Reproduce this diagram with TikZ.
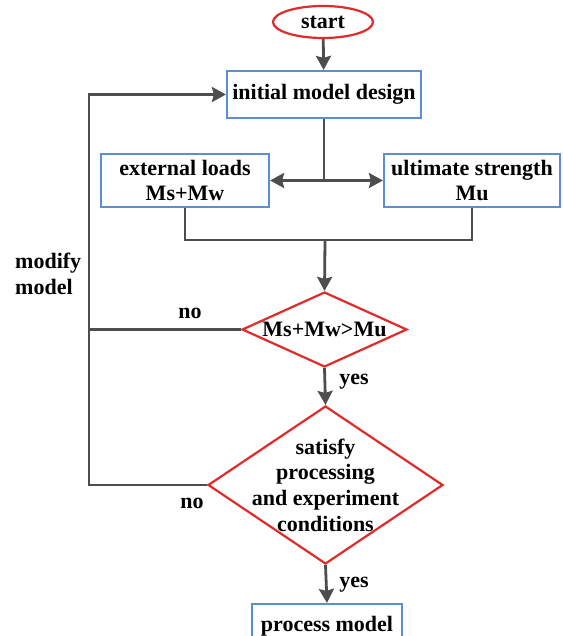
\documentclass[tikz,border=0pt]{standalone}
\usepackage{fontspec}
\setmainfont{Liberation Serif}[BoldFont={Liberation Serif Bold}]
\usepackage{tikz}
\usetikzlibrary{positioning,calc,arrows.meta,shapes.geometric}
\definecolor{boxc}{HTML}{5B8FD3}
\definecolor{decc}{HTML}{E02B2B}
\definecolor{linec}{HTML}{4D4D4D}
\tikzset{
  procbox/.style={draw=boxc, line width=2.2pt, fill=white, inner sep=0pt, align=center},
  decision/.style={diamond, draw=decc, line width=2.2pt, fill=white, inner sep=0pt},
  termnode/.style={ellipse, draw=decc, line width=2.2pt, inner sep=0pt},
  conn/.style={draw=linec, line width=2.8pt},
  flow/.style={conn, -{Stealth[length=14pt,width=15pt,inset=2pt]}},
  lbl/.style={inner sep=0pt}
}

\begin{document}
\begin{tikzpicture}[x=1pt, y=-1pt, font=\rmfamily\bfseries\fontsize{22}{25.7}\selectfont]
  \useasboundingbox (0,0) rectangle (562,636);
  % boxes and decisions
  \node[termnode, minimum width=100pt, minimum height=32pt] (start) at (323,22) {start};
  \node[procbox, minimum width=194pt, minimum height=47pt] (design) at (324,94.5) {initial model design};
  \node[procbox, minimum width=168pt, minimum height=53pt] (loads) at (185,180.5) {external loads\\Ms+Mw};
  \node[procbox, minimum width=176pt, minimum height=53pt] (strength) at (472,180.5) {ultimate strength\\Mu};
  \node[decision, minimum width=165pt, minimum height=75pt,
        label={[lbl]center:Ms+Mw>Mu}] (check) at (324.5,329.5) {};
  \node[decision, minimum width=235pt, minimum height=158pt,
        label={[lbl,align=center]center:satisfy\\processing\\and experiment\\conditions}] (cond) at (325.5,485) {};
  \node[procbox, minimum width=150pt, minimum height=44pt] (process) at (327,626) {process model};
  % helper points
  \coordinate (split) at (324,180.5);
  \coordinate (merge) at (325,240);
  \coordinate (loopbot) at (89,485);
  % connectors
  \draw[flow] (start) -- (design);
  \draw[conn] (design) -- (split);
  \draw[flow] (split) -- (loads);
  \draw[flow] (split) -- (strength);
  \draw[conn] (loads.south) |- (merge) -| (strength.south);
  \draw[flow] (merge) -- (check.north);
  \draw[flow] (check.south) -- (cond.north);
  \draw[flow] (cond.south) -- (process.north);
  \draw[conn] (check.west) -- (check.west -| loopbot);
  \draw[flow] (cond.west) -- (loopbot) |- (design.west);
  % labels
  \node[lbl] (no1) at (190,313) {no};
  \node[lbl] (yes1) at (354,382) {yes};
  \node[lbl] (no2) at (192,503) {no};
  \node[lbl] (yes2) at (354,585) {yes};
  \node[lbl, align=left, anchor=west] (modify) at (15,274) {modify\\model};
\end{tikzpicture}
\end{document}
